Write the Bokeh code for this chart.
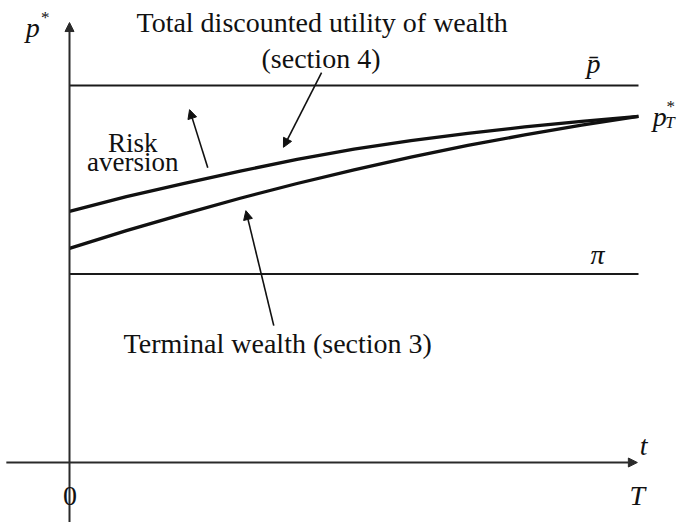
from bokeh.plotting import figure
from bokeh.models import Range1d, Label, Arrow, NormalHead, ColumnDataSource
from bokeh.embed import file_html
from bokeh.resources import INLINE

# ---- data ----
t_vals = [0.0, 0.1, 0.2, 0.3, 0.4, 0.5, 0.6, 0.7, 0.8, 0.9, 1.0]
p_total_discounted = [0.666, 0.705, 0.740, 0.773, 0.804, 0.831, 0.854, 0.873, 0.890, 0.905, 0.918]
p_terminal_wealth = [0.568, 0.615, 0.659, 0.701, 0.740, 0.776, 0.810, 0.841, 0.869, 0.895, 0.918]
p_bar_level = 1.0
pi_level = 0.5
T_end = 1.0

W, H = 678, 522
# pixel scale: 569 px per unit t, 377 px per unit p; origin at pixel (69, 462)
x0 = -69 / 569
y0 = (462 - H) / 377
p = figure(width=W, height=H, output_backend="svg", toolbar_location=None,
           x_range=Range1d(x0, x0 + W / 569), y_range=Range1d(y0, y0 + H / 377),
           x_axis_type=None, y_axis_type=None, min_border=0)
p.grid.visible = False
p.outline_line_color = None
p.background_fill_color = "white"
p.border_fill_color = "white"

SERIF = "Liberation Serif"
INK = "#1a1a1a"

# horizontal reference levels
p.line([0, T_end], [p_bar_level, p_bar_level], line_width=2.2, color=INK)
p.line([0, T_end], [pi_level, pi_level], line_width=2.2, color=INK)

# curves
src = ColumnDataSource(dict(t=t_vals, up=p_total_discounted, lo=p_terminal_wealth))
p.line("t", "up", source=src, line_width=3.3, color="#111111", line_join="round")
p.line("t", "lo", source=src, line_width=3.3, color="#111111", line_join="round")

# axes with arrows
def arrow(xs, ys, xe, ye, lw=1.6, size=9, color="#2a2a2a"):
    p.add_layout(Arrow(end=NormalHead(size=size, fill_color=color, line_color=color, line_width=1),
                       x_start=xs, y_start=ys, x_end=xe, y_end=ye,
                       line_width=lw, line_color=color))

arrow(0, y0 - 0.05, 0, 1.167, lw=2, size=9)
arrow(-0.111, 0, 0.998, 0, lw=2, size=9)

# annotation arrows
arrow(0.443, 1.034, 0.376, 0.836, lw=1.6, size=9, color="#111111")   # total discounted
arrow(0.243, 0.782, 0.211, 0.936, lw=1.6, size=9, color="#111111")   # risk aversion
arrow(0.359, 0.363, 0.310, 0.668, lw=1.6, size=9, color="#111111")   # terminal wealth

DY = 8 / 377  # baseline correction

def lab(x, y, text, size=28, style="normal", align="center"):
    p.add_layout(Label(x=x, y=y + DY, text=text, text_font=SERIF, text_font_size=f"{size}px",
                       text_font_style=style, text_align=align, text_baseline="alphabetic",
                       text_color="#111111"))

lab(0.444, 1.146, "Total discounted utility of wealth")
lab(0.442, 1.050, "(section 4)")
lab(0.111, 0.826, "Risk", size=27)
lab(0.111, 0.776, "aversion", size=27)
lab(0.366, 0.295, "Terminal wealth (section 3)")

# math labels
lab(0.921, 1.038, "p\u0304", size=28, style="italic")
lab(0.928, 0.530, "\u03c0", size=28, style="italic")
lab(1.025, 0.897, "p", size=28, style="italic", align="left")
lab(1.049, 0.924, "*", size=17, style="normal", align="left")
lab(1.047, 0.881, "T", size=17, style="italic", align="left")
lab(-0.077, 1.133, "p", size=28, style="italic", align="left")
lab(-0.050, 1.160, "*", size=17, style="normal", align="left")
lab(1.009, 0.024, "t", size=28, style="italic")
lab(0.998, -0.109, "T", size=28, style="italic")
lab(0.001, -0.109, "0", size=28)

open("out.html", "w").write(file_html(p, INLINE))
